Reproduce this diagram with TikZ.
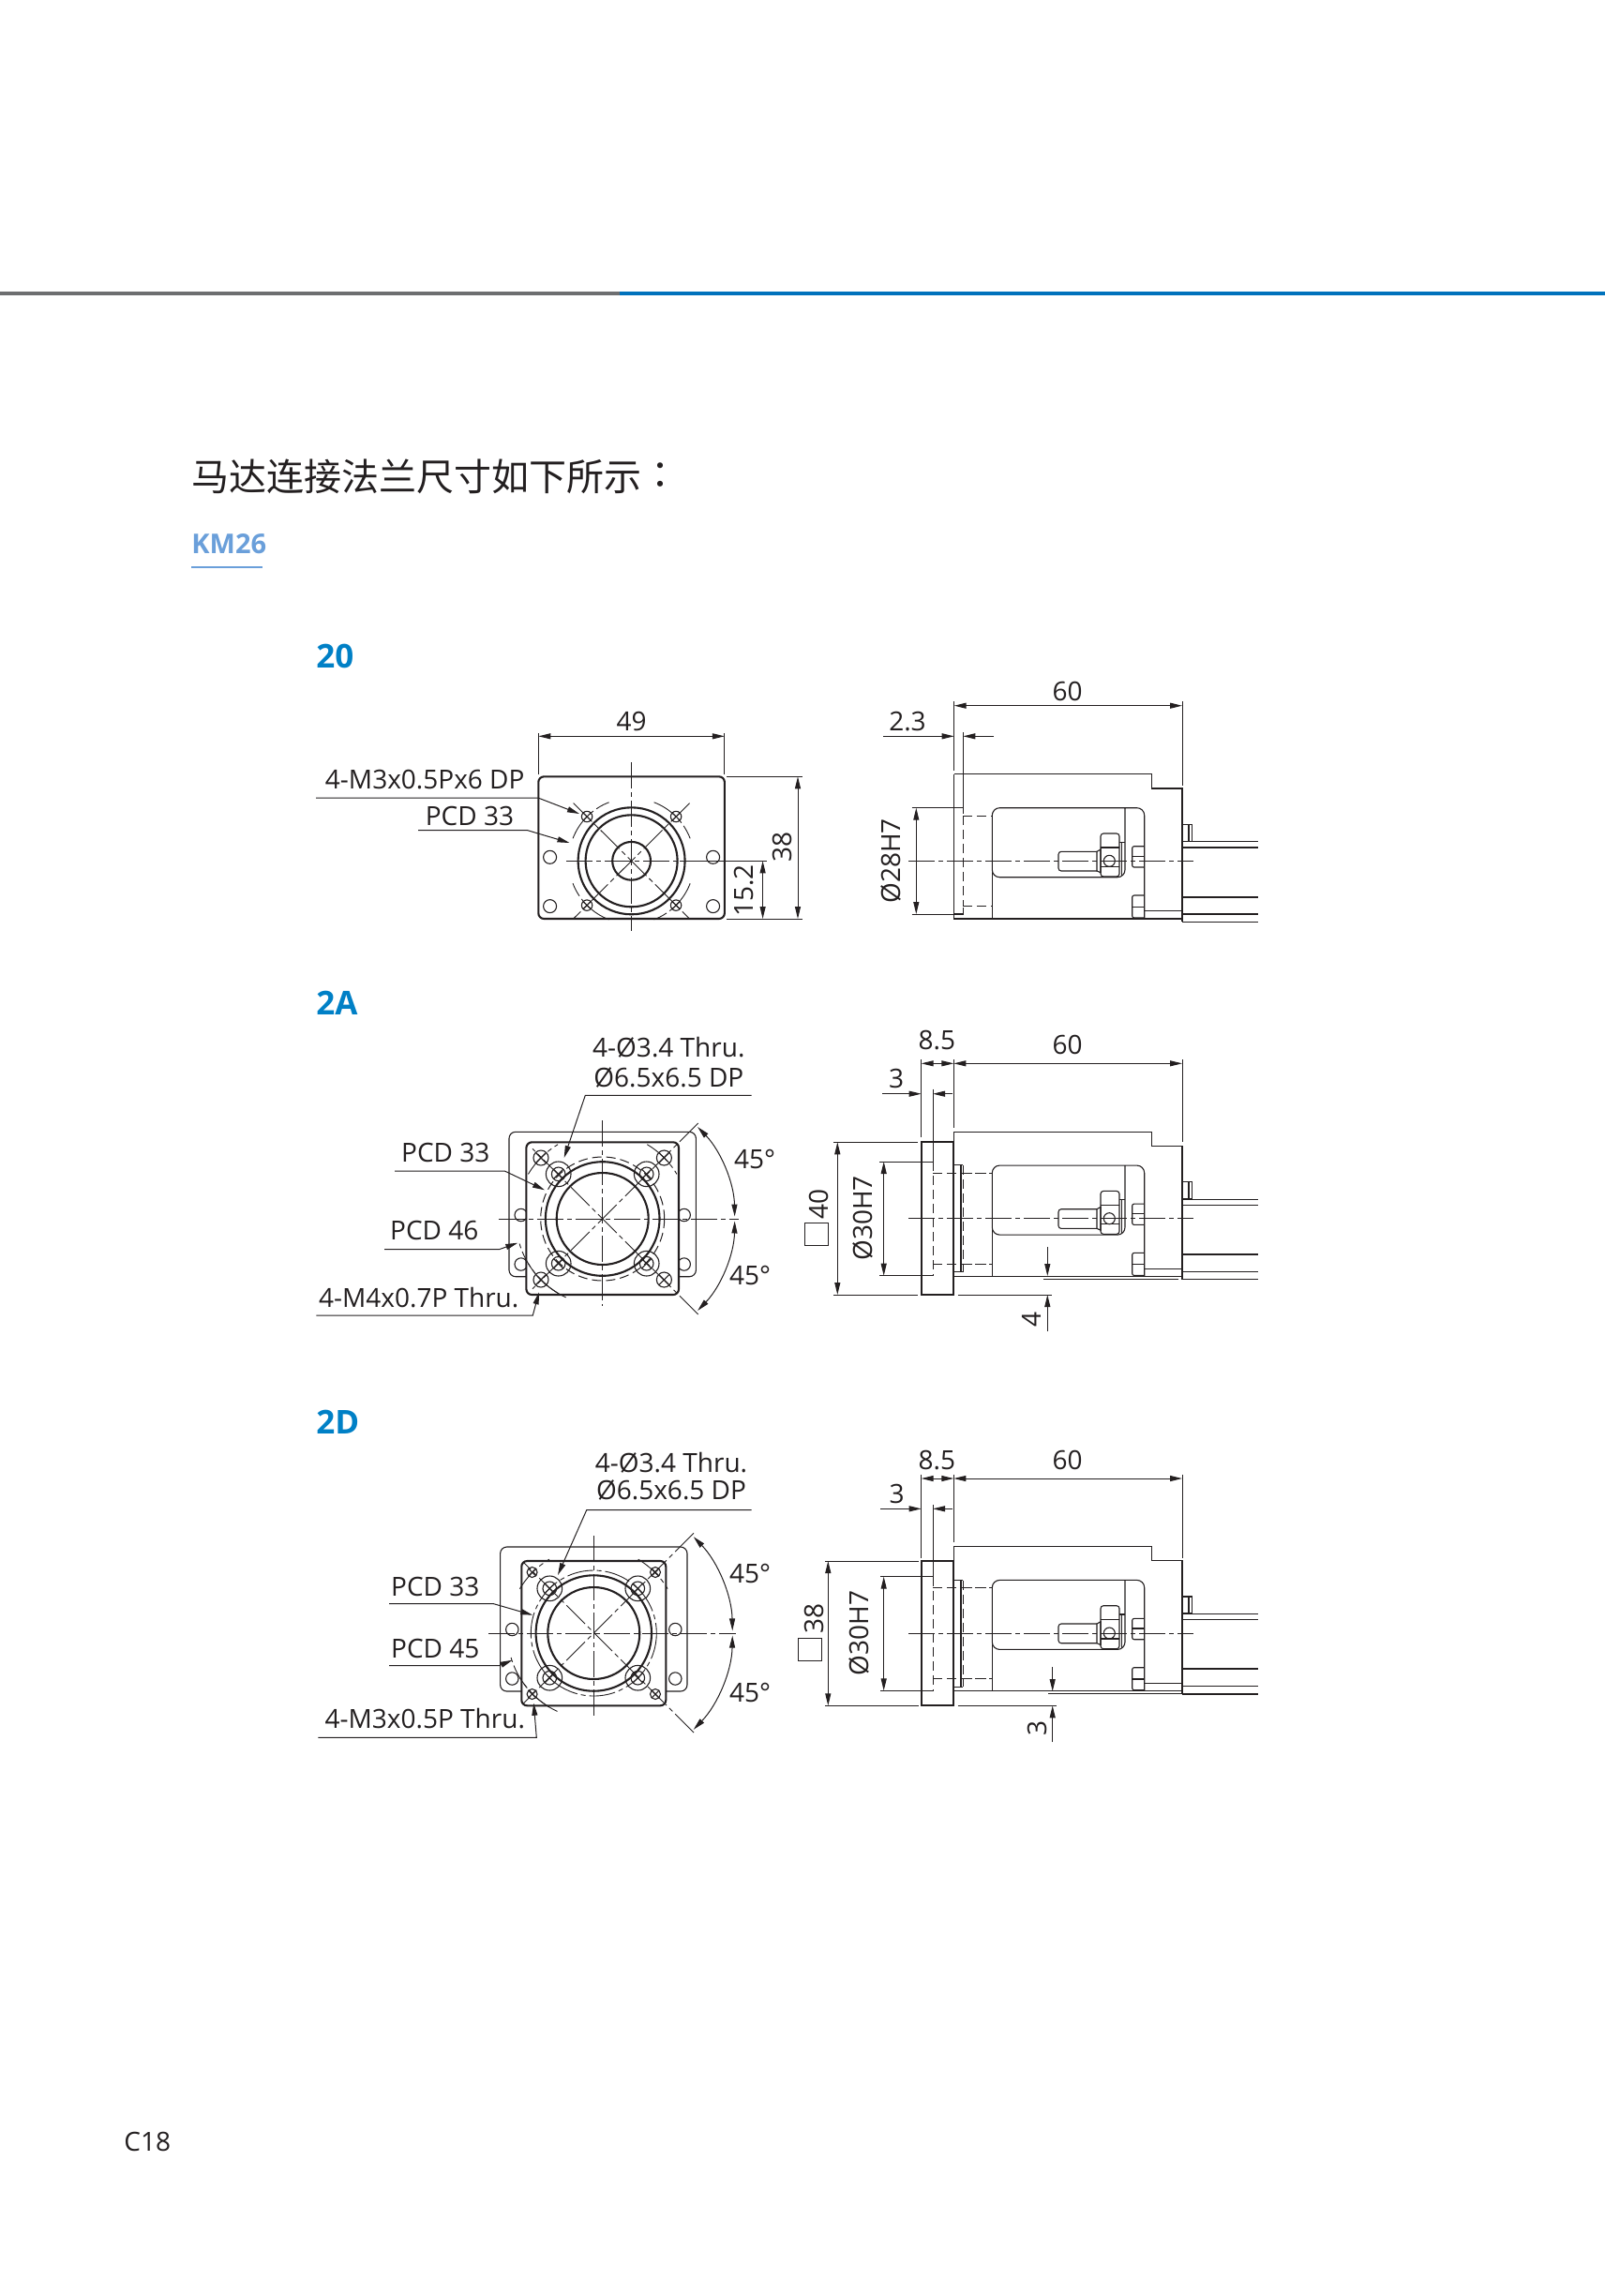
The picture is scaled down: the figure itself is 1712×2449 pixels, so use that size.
\documentclass[tikz,border=0pt]{standalone}
\usepackage{fontspec}
\setmainfont{Open Sans}
\newfontfamily\cjkfont{Noto Sans CJK SC}
\newfontfamily\cjkcolon{Noto Sans CJK TC}
\usetikzlibrary{arrows.meta,calc}
\definecolor{inkline}{HTML}{231F20}
\definecolor{headblue}{HTML}{0080C6}
\definecolor{paleblue}{HTML}{6A9FDA}
\definecolor{ruleblue}{HTML}{0072BC}
\definecolor{rulegray}{HTML}{6D6E70}
\tikzset{
	thinline/.style={line width=.55pt,draw=inkline},
	thickline/.style={line width=1.05pt,draw=inkline},
	dimline/.style={line width=.5pt,draw=inkline},
	centerline/.style={line width=.45pt,draw=inkline,dash pattern=on 14pt off 2pt on 2.5pt off 2pt},
	hiddenline/.style={line width=.5pt,draw=inkline,dash pattern=on 5pt off 2.5pt},
	dimtext/.style={inner sep=0pt,text=inkline,font=\fontsize{14pt}{14pt}\selectfont},
	headtext/.style={inner sep=0pt,text=headblue,font=\fontsize{17.5pt}{17.5pt}\selectfont\bfseries},
}
% side view of the gearbox, origin on the axis at the left face
\newcommand{\gearbox}[2]{%
	\begin{scope}[shift={(#1,#2)}]
		\draw[thinline] (0,-92.6) -- (210.6,-92.6) -- (210.6,-77.3) -- (243.3,-77.3) -- (243.3,65);
		\draw[thinline] (0,-92.6) -- (0,61.7) -- (243.3,61.7);
		\draw[thinline,rounded corners=4pt] (182.3,-56.6) -- (182.3,17.4) -- (40.6,17.4) -- (40.6,-56.6) -- (203,-56.6) -- (203,61.7);
		\draw[thinline] (40.6,9) -- (40.6,61.7);
		\draw[hiddenline] (9.6,-48.3) -- (40.6,-48.3) (9.6,48.4) -- (40.6,48.4);
		% motor shaft and clamp
		\draw[thinline,rounded corners=1.5pt] (152.3,-10) -- (111.3,-10) -- (111.3,10.7) -- (152.3,10.7);
		\draw[thinline] (152.3,-10) -- (156.3,-12.3) -- (156.3,12.4) -- (152.3,10.7) -- cycle;
		\draw[thinline,rounded corners=1.5pt] (156.3,16.7) -- (156.3,-29.3) -- (176.3,-29.3) -- (176.3,16.7) -- cycle;
		\draw[thinline] (156.3,-14.3) -- (176.3,-14.3) (156.3,6) -- (176.3,6);
		\draw[thinline] (176.3,-20) -- (182.3,-20) (178.5,-20) -- (178.5,16);
		\node[circle,draw=inkline,line width=.55pt,inner sep=0pt,minimum size=6pt] (clamphole) at (165.6,0) {};
		% screws and motor side
		\draw[thinline,rounded corners=1pt] (202.6,-15.6) -- (190,-15.6) -- (190,6.7) -- (202.6,6.7);
		\draw[thinline] (190,-5) -- (202.6,-5);
		\draw[thinline,rounded corners=1pt] (202.6,36.7) -- (190,36.7) -- (190,60.7) -- (202.6,60.7);
		\draw[thinline] (190,49) -- (202.6,49);
		\draw[thinline] (203,53.4) -- (243.3,53.4);
		\draw[thinline] (243.3,-39) rectangle (254,-21) (250.3,-39) -- (250.3,-21);
		\draw[thinline] (243.3,-20.6) -- (324,-20.6) (243.3,-14.3) -- (324,-14.3);
		\draw[thickline] (243.3,38.4) -- (324,38.4);
		\draw[thinline] (243.3,56.7) -- (324,56.7) (243.3,65) -- (324,65);
		% axis
		\draw[centerline] (-48.7,0) -- (255.3,0);
	\end{scope}%
}
% flange seen from the front:
% cx cy, plate half-width, plate top, plate bottom, square half-width, square top, square bottom, corner hole radius
\newcommand{\frontview}[9]{%
	\begin{scope}[shift={(#1,#2)}]
		\draw[thinline,rounded corners=3.5pt] (-#3,#4) rectangle (#3,#5);
		\foreach \hx/\hy in {-1/-4,1/-4,-1/48.5,1/48.5} {
			\draw[thinline] (\hx*87,\hy) circle (6.7);
		}
		\fill[white] (-#6,#7) rectangle (#6,#8);
		\draw[thickline,rounded corners=3pt] (-#6,#7) rectangle (#6,#8);
		\foreach \hx/\hy in {-1/-1,1/-1,-1/1,1/1} {
			\draw[thinline] (\hx*47,\hy*47.7) circle (13.3) (\hx*47,\hy*47.7) circle (7.3);
			\draw[thinline] ($(\hx*47,\hy*47.7)+(-5.2,-5.2)$) -- ($(\hx*47,\hy*47.7)+(5.2,5.2)$);
			\draw[thinline] ($(\hx*47,\hy*47.7)+(-5.2,5.2)$) -- ($(\hx*47,\hy*47.7)+(5.2,-5.2)$);
			\draw[thinline] (\hx*65.7,\hy*65) circle (#9);
			\draw[thinline] ($(\hx*65.7,\hy*65)+(-#9*.72,-#9*.72)$) -- ($(\hx*65.7,\hy*65)+(#9*.72,#9*.72)$);
			\draw[thinline] ($(\hx*65.7,\hy*65)+(-#9*.72,#9*.72)$) -- ($(\hx*65.7,\hy*65)+(#9*.72,-#9*.72)$);
		}
	\end{scope}%
}
\begin{document}
\begin{tikzpicture}[x=.5pt,y=.5pt,yscale=-1,>={Stealth[length=6.5pt,width=3pt,inset=0pt]}]
	\useasboundingbox (0,0) rectangle (1712,2449);
	\fill[white] (0,0) rectangle (1712,2449);

	% page head
	\fill[rulegray] (0,311) rectangle (660.7,315);
	\fill[ruleblue] (660.7,311) rectangle (1712,315);
	\node[anchor=west,inner sep=0pt,text=inkline,font=\cjkfont\fontsize{20pt}{20pt}\selectfont] (title) at (204,508) {马达连接法兰尺寸如下所示};
	\node[anchor=west,inner sep=0pt,text=inkline,font=\cjkcolon\fontsize{20pt}{20pt}\selectfont] (colon) at (684,508) {：};
	\node[anchor=west,inner sep=0pt,text=paleblue,font=\fontsize{14.5pt}{14.5pt}\selectfont\bfseries] (model) at (204,580) {KM26};
	\draw[paleblue,line width=.8pt] (204,605) -- (280,605);
	\node[anchor=west,dimtext] (pageno) at (132,2284) {C18};

	\node[anchor=west,headtext] (head20) at (337,700) {20};
	\node[anchor=west,headtext] (head2A) at (337,1070) {2A};
	\node[anchor=west,headtext] (head2D) at (337,1517) {2D};

	% ---- 20, front
	\draw[thickline,rounded corners=3pt] (574.3,828.3) rectangle (772.9,980);
	\foreach \a/\b in {-1/-1,1/-1,-1/1,1/1} {
		\draw[thinline] ({673.6+\a*47.5},{918.3+\b*47.3}) circle (5.7);
		\draw[thinline] ({673.6+\a*47.5-4},{918.3+\b*47.3-4}) -- ({673.6+\a*47.5+4},{918.3+\b*47.3+4});
		\draw[thinline] ({673.6+\a*47.5-4},{918.3+\b*47.3+4}) -- ({673.6+\a*47.5+4},{918.3+\b*47.3-4});
	}
	\foreach \a/\b in {-1/-4,1/-4,-1/48.3,1/48.3} {
		\draw[thinline] ({673.6+\a*87},{918.3+\b}) circle (7);
	}
	\draw[thickline] (673.6,918.3) circle (57) (673.6,918.3) circle (49) (673.6,918.3) circle (20.4);
	\draw[centerline] (673.6,813) -- (673.6,993);
	\draw[centerline] (604,918.3) -- (725,918.3);
	\draw[thinline] (725,918.3) -- (817.5,918.3);
	\draw[centerline] (611.6,856.6) -- (735.6,980) (735.6,856.6) -- (611.6,980);
	\foreach \mid in {45,135,225,315} {
		\draw[centerline] ({673.6+67*cos(\mid-24)},{918.3+67*sin(\mid-24)}) arc ({\mid-24}:{\mid+24}:67);
	}
	\coordinate (a49l) at (574.3,785.3);
	\coordinate (a49r) at (772.9,785.3);
	\draw[dimline] (574.3,826) -- (574.3,781.7) (772.9,826) -- (772.9,781.7);
	\draw[dimline,<->] (a49l) -- (a49r);
	\node[dimtext] (t49) at (673.6,769) {49};
	\draw[dimline] (775,828.3) -- (855.7,828.3) (775,980) -- (855.7,980);
	\coordinate (a38t) at (851,828.3);
	\coordinate (a38b) at (851,980);
	\draw[dimline,<->] (a38t) -- (a38b);
	\node[dimtext,rotate=90] (t38) at (834.3,903) {38};
	\coordinate (a15t) at (813.6,918.3);
	\coordinate (a15b) at (813.6,980);
	\draw[dimline,<->] (a15t) -- (a15b);
	\node[dimtext,rotate=90] (t15) at (793.2,950) {15.2};
	\node[dimtext] (tm3) at (453.2,832) {4-M3x0.5Px6 DP};
	\draw[dimline,->] (337,851) -- (574,851) -- (618,868);
	\node[dimtext] (tpcd20) at (501,870) {PCD 33};
	\draw[dimline,->] (446,885.7) -- (562.9,885.7) -- (607.5,899);

	% ---- 20, side
	\gearbox{1017.7}{918.3}
	\draw[thinline] (1027.3,781) -- (1027.3,861.7) -- (1017.7,861.7);
	\draw[thinline] (1027.3,861.7) -- (1027.3,868) (1027.3,968) -- (1027.3,975) -- (1017.7,975);
	\draw[hiddenline] (1027.3,870) -- (1027.3,966);
	\draw[dimline] (1017.7,748) -- (1017.7,822) (1261,748) -- (1261,838);
	\coordinate (b60l) at (1017.7,752.7);
	\coordinate (b60r) at (1261,752.7);
	\draw[dimline,<->] (b60l) -- (b60r);
	\node[dimtext] (t60) at (1138.7,737.3) {60};
	\draw[dimline,->] (942.3,785.3) -- (1017.7,785.3);
	\draw[dimline,->] (1060,785.3) -- (1027.3,785.3);
	\node[dimtext] (t23) at (968,769.3) {2.3};
	\draw[dimline] (972.7,861.7) -- (1017,861.7) (972.7,975) -- (1017,975);
	\coordinate (b28t) at (977.3,861.7);
	\coordinate (b28b) at (977.3,975);
	\draw[dimline,<->] (b28t) -- (b28b);
	\node[dimtext,rotate=90] (t28) at (950,918.3) {Ø28H7};

	% ---- 2A, front
	\frontview{642.7}{1300}{99.7}{-92.7}{61.7}{81.3}{-81.7}{81}{8}
	\draw[thickline] (642.7,1300) circle (60.8) (642.7,1300) circle (49);
	\draw[hiddenline] (642.7,1300) circle (66);
	\draw[centerline] (642.7,1195) -- (642.7,1393);
	\draw[centerline] (531.7,1300) -- (787.7,1300);
	\draw[centerline] (744.7,1198) -- (568,1374.7) (744.7,1402) -- (568,1225.3);
	\foreach \mid in {135,225,315} {
		\draw[centerline] ({642.7+92.5*cos(\mid-14)},{1300+92.5*sin(\mid-14)}) arc ({\mid-14}:{\mid+14}:92.5);
	}
	\draw[centerline] ({642.7+92.5*cos(115)},{1300+92.5*sin(115)}) arc (115:165:92.5);
	\draw[dimline,<->] ({642.7+141*cos(-44)},{1300+141*sin(-44)}) arc (-44:-1:141);
	\draw[dimline,<->] ({642.7+141*cos(44)},{1300+141*sin(44)}) arc (44:1:141);
	\node[dimtext] (a45u) at (805,1236.7) {45°};
	\node[dimtext] (a45d) at (800,1360) {45°};
	\node[dimtext] (ta34) at (713.3,1117.7) {4-Ø3.4 Thru.};
	\node[dimtext] (ta65) at (713.3,1149) {Ø6.5x6.5 DP};
	\draw[dimline,->] (801.7,1168.3) -- (624.3,1168.3) -- (601.7,1235);
	\node[dimtext] (tpcdA) at (475.3,1229.3) {PCD 33};
	\draw[dimline,->] (421,1249) -- (538.3,1249) -- (581,1269.3);
	\node[dimtext] (tpcdB) at (463.3,1312.3) {PCD 46};
	\draw[dimline,->] (410,1332.7) -- (532.3,1332.7) -- (552.3,1325.7);
	\node[dimtext] (tm4) at (446.7,1384) {4-M4x0.7P Thru.};
	\draw[dimline,->] (337.3,1403) -- (568.3,1403) -- (575,1378.3);

	% ---- 2A, side
	\gearbox{1017.7}{1299.7}
	\draw[thickline] (982.7,1218.3) rectangle (1017.3,1381);
	\draw[thinline] (1017.3,1242.7) -- (1027.3,1242.7) (1017.3,1356.7) -- (1027.3,1356.7);
	\draw[hiddenline] (1027.3,1242.7) -- (1027.3,1356.7);
	\draw[thinline] (1025,1242.7) -- (1025,1356.7);
	\draw[hiddenline] (995,1251) -- (1058.3,1251) (995,1348.3) -- (1058.3,1348.3);
	\draw[hiddenline] (995,1239) -- (995,1360.7);
	\draw[dimline] (982.7,1130) -- (982.7,1213) (1017.3,1130) -- (1017.3,1203.3) (1261,1130) -- (1261,1218.3);
	\draw[dimline] (995,1161.7) -- (995,1239);
	\draw[dimline,<->] (982.7,1134.3) -- (1017.3,1134.3);
	\draw[dimline,<->] (1017.3,1134.3) -- (1261,1134.3);
	\node[dimtext] (t85) at (999.3,1110) {8.5};
	\node[dimtext] (t60a) at (1138.7,1114) {60};
	\draw[dimline,->] (941,1166.7) -- (982.7,1166.7);
	\draw[dimline,->] (1015.7,1166.7) -- (995,1166.7);
	\node[dimtext] (t3a) at (956,1150) {3};
	\draw[dimline] (889.3,1218.3) -- (979.3,1218.3) (889.3,1381) -- (979.3,1381) (1021.7,1381) -- (1121.7,1381);
	\draw[dimline,<->] (893.3,1218.3) -- (893.3,1381);
	\node[dimtext,rotate=90] (t40) at (873.3,1284) {40};
	\draw[dimline] (858.7,1304) rectangle (883.7,1328.7);
	\draw[dimline] (938.3,1239) -- (996,1239) (938.3,1360.7) -- (996,1360.7);
	\draw[dimline,<->] (942.7,1239) -- (942.7,1360.7);
	\node[dimtext,rotate=90] (t30) at (920,1299.3) {Ø30H7};
	\draw[dimline,->] (1117.3,1330) -- (1117.3,1361);
	\draw[dimline,->] (1117.3,1420) -- (1117.3,1381);
	\node[dimtext,rotate=90] (t4) at (1100.7,1407.3) {4};
	\draw[thinline] (1113.3,1364.7) -- (1257.3,1364.7);

	% ---- 2D, front
	\frontview{633.3}{1742}{99.7}{-92}{62}{77}{-77}{77.3}{5.5}
	\draw[thickline] (633.3,1742) circle (61.7) (633.3,1742) circle (49);
	\draw[centerline] (633.3,1742) circle (67);
	\draw[centerline] (633.3,1638.3) -- (633.3,1831.7);
	\draw[centerline] (521,1742) -- (785,1742);
	\draw[centerline] (740,1635.3) -- (558,1817.3) (740,1848) -- (558,1666);
	\foreach \mid in {135,225,315} {
		\draw[centerline] ({633.3+92*cos(\mid-14)},{1742+92*sin(\mid-14)}) arc ({\mid-14}:{\mid+14}:92);
	}
	\draw[centerline] ({633.3+92*cos(115)},{1742+92*sin(115)}) arc (115:165:92);
	\draw[dimline,<->] ({633.3+148*cos(-44)},{1742+148*sin(-44)}) arc (-44:-1:148);
	\draw[dimline,<->] ({633.3+148*cos(44)},{1742+148*sin(44)}) arc (44:1:148);
	\node[dimtext] (d45u) at (800,1678.3) {45°};
	\node[dimtext] (d45d) at (800,1805) {45°};
	\node[dimtext] (td34) at (716,1560) {4-Ø3.4 Thru.};
	\node[dimtext] (td65) at (716,1589.3) {Ø6.5x6.5 DP};
	\draw[dimline,->] (801.7,1610.7) -- (625.7,1610.7) -- (595,1680);
	\node[dimtext] (tpcdC) at (464.3,1692.3) {PCD 33};
	\draw[dimline,->] (415,1710.7) -- (526.7,1710.7) -- (568.3,1722.7);
	\node[dimtext] (tpcdD) at (464.3,1758.3) {PCD 45};
	\draw[dimline,->] (415,1776.7) -- (532.3,1776.7) -- (546.7,1770.7);
	\node[dimtext] (tm3b) at (453.3,1832.7) {4-M3x0.5P Thru.};
	\draw[dimline,->] (339.3,1853.3) -- (572.3,1853.3) -- (569.3,1816.7);

	% ---- 2D, side
	\gearbox{1017.7}{1742}
	\draw[thickline] (982.7,1665) rectangle (1017.3,1819.3);
	\draw[thinline] (1017.3,1685.7) -- (1027.3,1685.7) (1017.3,1799.3) -- (1027.3,1799.3);
	\draw[hiddenline] (1027.3,1685.7) -- (1027.3,1799.3);
	\draw[thinline] (1025,1685.7) -- (1025,1799.3);
	\draw[hiddenline] (995,1693.7) -- (1058.3,1693.7) (995,1790.4) -- (1058.3,1790.4);
	\draw[hiddenline] (995,1681.7) -- (995,1803.3);
	\draw[dimline] (982.7,1572.7) -- (982.7,1661.7) (1017.3,1572.7) -- (1017.3,1645) (1261,1572.7) -- (1261,1661.7);
	\draw[dimline] (995,1605) -- (995,1681.7);
	\draw[dimline,<->] (982.7,1577) -- (1017.3,1577);
	\draw[dimline,<->] (1017.3,1577) -- (1261,1577);
	\node[dimtext] (t85d) at (999.3,1557.3) {8.5};
	\node[dimtext] (t60d) at (1138.7,1557.3) {60};
	\draw[dimline,->] (939.3,1609.3) -- (982.7,1609.3);
	\draw[dimline,->] (1015.7,1609.3) -- (995,1609.3);
	\node[dimtext] (t3d) at (956.7,1593.3) {3};
	\draw[dimline] (880,1665) -- (980,1665) (880,1819.3) -- (980,1819.3) (1021.7,1819.3) -- (1126.7,1819.3);
	\draw[dimline,<->] (883.3,1665) -- (883.3,1819.3);
	\node[dimtext,rotate=90] (t38d) at (868.3,1726.7) {38};
	\draw[dimline] (851.6,1747) rectangle (876.3,1771.7);
	\draw[dimline] (939.3,1681.7) -- (996,1681.7) (939.3,1803.3) -- (996,1803.3);
	\draw[dimline,<->] (942.7,1681.7) -- (942.7,1803.3);
	\node[dimtext,rotate=90] (t30d) at (916.7,1742) {Ø30H7};
	\draw[dimline,->] (1122.7,1778.3) -- (1122.7,1804);
	\draw[dimline,->] (1122.7,1858.3) -- (1122.7,1819.3);
	\node[dimtext,rotate=90] (t3e) at (1106.7,1843.3) {3};
	\draw[thinline] (1118.3,1806.7) -- (1260,1806.7);
\end{tikzpicture}
\end{document}
